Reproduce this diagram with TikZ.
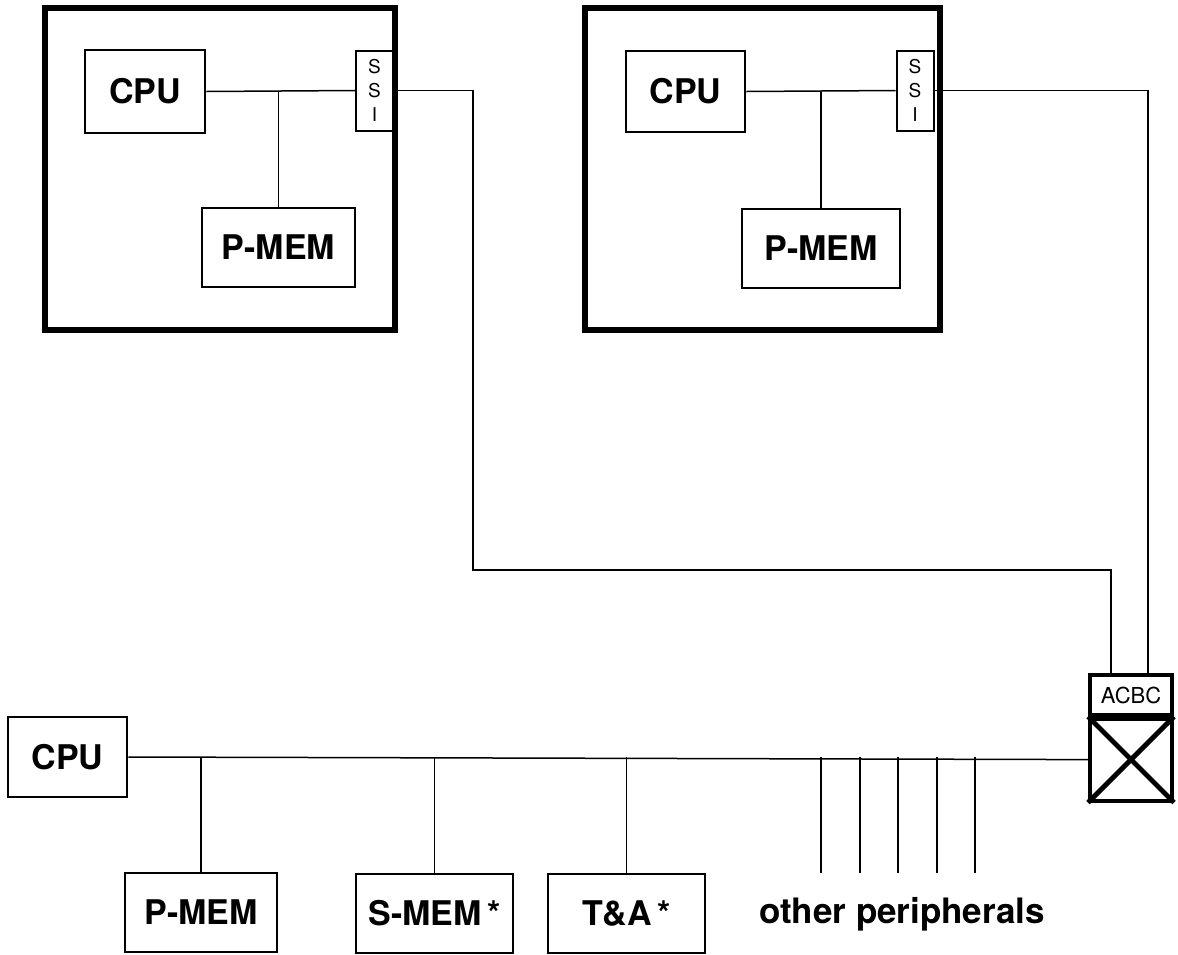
\documentclass[tikz,border=0pt]{standalone}
\usepackage{fontspec}
\setmainfont{TeX Gyre Heros}
\usetikzlibrary{positioning}

\newcommand{\unitfont}{\fontsize{17}{20}\bfseries\selectfont}
\newcommand{\tinyfont}{\fontsize{9.5}{12}\selectfont}

\tikzset{
  unit/.style = {draw, line width=1.4pt, font=\unitfont, inner sep=0pt},
  system/.style = {draw, line width=3pt, inner sep=0pt},
  ssibox/.style = {draw, line width=1pt, font=\tinyfont, align=center, inner sep=0pt,
                   minimum width=18.5pt, minimum height=40pt},
  wire/.style = {line width=0.75pt}
}

\begin{document}
\begin{tikzpicture}[x=0.5pt, y=-0.5pt]
\useasboundingbox (0,0) rectangle (1178,954);

% left host
\node [system, minimum width=175pt, minimum height=161pt] (sysL) at (220,169) {};
\node [unit, minimum width=60pt, minimum height=41.5pt] (cpuL) at (145,91.5) {CPU};
\node [unit, minimum width=76.5pt, minimum height=39.5pt] (memL) at (278.5,247.5) {P-MEM};
\node [ssibox] (ssiL) at (374.5,90.5) {S\\S\\I};
\draw [wire] (cpuL.east) -- (ssiL.west);
\draw [wire] (memL.north) -- (memL.north |- cpuL.east);

% right host
\node [system, minimum width=177.5pt, minimum height=161pt] (sysR) at (762.5,169) {};
\node [unit, minimum width=59.5pt, minimum height=40.5pt] (cpuR) at (685.5,91.5) {CPU};
\node [unit, minimum width=79pt, minimum height=39.5pt] (memR) at (821,248.5) {P-MEM};
\node [ssibox] (ssiR) at (915,90.5) {S\\S\\I};
\draw [wire] (cpuR.east) -- (ssiR.west);
\draw [wire] (memR.north) -- (memR.north |- cpuR.east);

% bus coupler
\node [draw, line width=1.6pt, minimum width=41pt, minimum height=20pt, inner sep=0pt,
       font=\fontsize{11}{12}\selectfont] (acbc) at (1131,695) {ACBC};
\node [draw, line width=2pt, minimum width=41pt, minimum height=41pt, inner sep=0pt,
       below=0pt of acbc] (xbar) {};
\draw [line width=2.4pt] (xbar.north west) -- (xbar.south east);
\draw [line width=2.4pt] (xbar.south west) -- (xbar.north east);

\coordinate (inL) at (1111,675);
\coordinate (inR) at (1148,675);
\draw [wire] (ssiL.east) -| (473,570) -| (inL);
\draw [wire] (ssiR.east) -| (inR);

% local system
\node [unit, minimum width=59.5pt, minimum height=40pt] (cpuM) at (67.5,757) {CPU};
\node [unit, minimum width=76pt, minimum height=39.5pt] (memM) at (201,912.5) {P-MEM};
\node [unit, minimum width=78.5pt, minimum height=39.5pt] (smem) at (434.5,913.5) {S-MEM\,*};
\node [unit, minimum width=78.5pt, minimum height=39.5pt] (tanda) at (626.5,913.5) {T\&A\,*};
\node [font=\fontsize{17.5}{22}\bfseries\selectfont, inner sep=0pt] (other) at (902,914) {other peripherals};

\draw [wire] (cpuM.east) -- (xbar.west);
\foreach \n in {memM, smem, tanda}
  \draw [wire] (\n.north) -- (\n.north |- cpuM.east);
\foreach \x in {821,860,898,937,975}
  \draw [wire] (\x,757) -- (\x,873);
\end{tikzpicture}
\end{document}
